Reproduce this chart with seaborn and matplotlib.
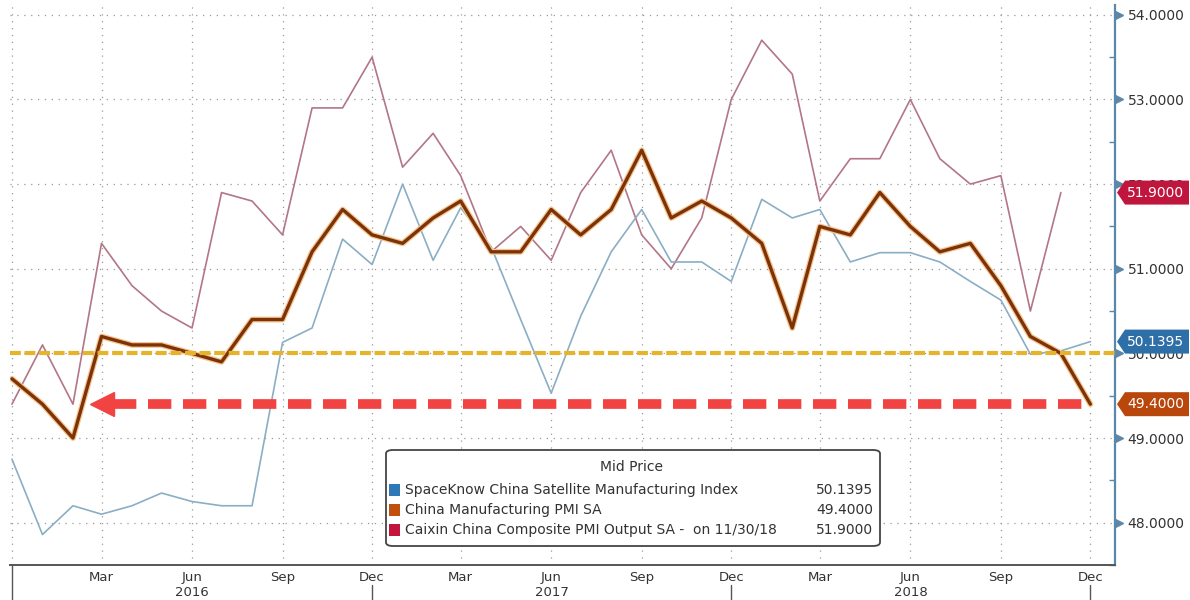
import numpy as np
import pandas as pd
import matplotlib
matplotlib.use("Agg")
import matplotlib.pyplot as plt
import matplotlib.dates as mdates
import matplotlib.patheffects as pe
from matplotlib.patches import Polygon, FancyBboxPatch, Rectangle
from matplotlib.transforms import blended_transform_factory
import seaborn as sns

# -----------------------------
# data (monthly, Dec 2015 - Dec 2018)
# -----------------------------
months = pd.date_range("2015-12-01", "2018-12-01", freq="MS")

spaceknow = [48.75, 47.86, 48.2, 48.1, 48.2, 48.35, 48.25, 48.2, 48.2, 50.13, 50.3, 51.35, 51.05,
             52.0, 51.1, 51.72, 51.26, 50.4, 49.53, 50.44, 51.2, 51.7, 51.08, 51.08, 50.85,
             51.82, 51.6, 51.7, 51.08, 51.19, 51.19, 51.08, 50.85, 50.63, 49.99, 50.03, 50.1395]

pmi = [49.7, 49.4, 49.0, 50.2, 50.1, 50.1, 50.0, 49.9, 50.4, 50.4, 51.2, 51.7, 51.4,
       51.3, 51.6, 51.8, 51.2, 51.2, 51.7, 51.4, 51.7, 52.4, 51.6, 51.8, 51.6,
       51.3, 50.3, 51.5, 51.4, 51.9, 51.5, 51.2, 51.3, 50.8, 50.2, 50.0, 49.4]

caixin = [49.4, 50.1, 49.4, 51.3, 50.8, 50.5, 50.3, 51.9, 51.8, 51.4, 52.9, 52.9, 53.5,
          52.2, 52.6, 52.1, 51.2, 51.5, 51.1, 51.9, 52.4, 51.4, 51.0, 51.6, 53.0,
          53.7, 53.3, 51.8, 52.3, 52.3, 53.0, 52.3, 52.0, 52.1, 50.5, 51.9]

series_names = ["SpaceKnow China Satellite Manufacturing Index",
                "China Manufacturing PMI SA",
                "Caixin China Composite PMI Output SA -  on 11/30/18"]
last_values = [spaceknow[-1], pmi[-1], caixin[-1]]
year_labels = ["2016", "2017", "2018"]
yticks = [48, 49, 50, 51, 52, 53, 54]
expansion_level = 50.0

# -----------------------------
# figure
# -----------------------------
sns.set_style("white")
plt.rcParams["font.family"] = ["DejaVu Sans"]

W, H = 1190, 600
fig = plt.figure(figsize=(W / 100, H / 100), dpi=100)
ax = fig.add_axes([10 / W, 35 / H, 1105 / W, 560 / H])

sns.lineplot(x=months[:len(caixin)], y=caixin, ax=ax, color="#b27686", linewidth=1.2)
sns.lineplot(x=months, y=spaceknow, ax=ax, color="#8aaec4", linewidth=1.2)
sns.lineplot(x=months, y=pmi, ax=ax, color="#7c3309", linewidth=2.4,
             path_effects=[pe.withStroke(linewidth=4.2, foreground="#f6c48c")])
ax.set_xlabel("")
ax.set_ylabel("")

x0 = months[0] - pd.Timedelta(days=2)
x1 = months[-1] + pd.Timedelta(days=25)
ax.set_xlim(x0, x1)
ax.set_ylim(47.605, 54.116)

# annotation lines
ax.hlines(expansion_level, x0, x1, colors="#e6b42a", linewidth=3.0,
          linestyles=(0, (2.6, 0.9)), zorder=4)
arrow_tip = pd.Timestamp("2016-02-20")
ax.hlines(pmi[-1], arrow_tip + pd.Timedelta(days=22), months[-1] - pd.Timedelta(days=5),
          colors="#f24343", linewidth=7, linestyles=(0, (2.4, 1.2)), zorder=5)
ax.plot([arrow_tip + pd.Timedelta(days=10)], [pmi[-1]], marker="<", markersize=17,
        color="#f24343", zorder=5)

# grid
ax.xaxis.set_major_locator(mdates.MonthLocator(bymonth=[3, 6, 9, 12]))
ax.xaxis.set_minor_locator(mdates.MonthLocator())


def month_fmt(x, pos):
    d = mdates.num2date(x)
    return "" if d.year < 2016 else d.strftime("%b")


ax.xaxis.set_major_formatter(plt.FuncFormatter(month_fmt))
ax.set_yticks(yticks)
ax.set_yticks(np.arange(47.5, 54.1, 0.5), minor=True)
ax.yaxis.set_major_formatter(plt.FuncFormatter(lambda v, p: f"{v:.4f}"))
ax.grid(True, which="major", color="#999999", linewidth=0.9, linestyle=(0, (1, 4.5)))

# spines / ticks
for s in ["left", "top"]:
    ax.spines[s].set_visible(False)
ax.spines["right"].set_color("#5b88aa")
ax.spines["right"].set_linewidth(1.6)
ax.spines["bottom"].set_color("#555555")
ax.spines["bottom"].set_linewidth(1.4)

ax.yaxis.tick_right()
ax.tick_params(axis="y", which="major", length=0, pad=9, labelsize=10, labelcolor="#333333")
ax.tick_params(axis="y", which="minor", length=4, direction="in", color="#5b88aa", width=1)
ax.tick_params(axis="x", which="both", direction="inout", color="#555555", width=1)
ax.tick_params(axis="x", which="major", length=6, pad=1, labelsize=9.5, labelcolor="#333333")
ax.tick_params(axis="x", which="minor", length=5)

yblend = blended_transform_factory(ax.transAxes, ax.transData)
ax.plot([1.004] * len(yticks), yticks, transform=yblend, marker=">", markersize=6,
        color="#5b88aa", linestyle="none", clip_on=False)

# year labels and separators
xblend = blended_transform_factory(ax.transData, ax.transAxes)
for i, yl in enumerate(year_labels):
    start = pd.Timestamp(f"{int(yl) - 1}-12-01")
    end = pd.Timestamp(f"{yl}-12-01")
    ax.text(start + (end - start) / 2, -0.05, yl, transform=xblend, ha="center",
            va="center", fontsize=9.5, color="#333333")
    ax.plot([end, end], [-0.035, -0.07], transform=xblend, color="#555555",
            linewidth=1, clip_on=False)
ax.plot([months[0], months[0]], [0, -0.07], transform=xblend, color="#555555",
        linewidth=1, clip_on=False)

# -----------------------------
# legend box
# -----------------------------
fig.patches.append(FancyBboxPatch((386 / W, 1 - 546 / H), 494 / W, 96 / H,
                                  boxstyle="round,pad=0,rounding_size=0.006",
                                  transform=fig.transFigure, facecolor="white",
                                  edgecolor="#444444", linewidth=1.3, zorder=6))
fig.text(632 / W, 1 - 467 / H, "Mid Price", ha="center", va="center",
         fontsize=10, color="#333333", zorder=7)
legend_colors = ["#2e78b8", "#c0500c", "#c2143c"]
for i, (name, val, c) in enumerate(zip(series_names, last_values, legend_colors)):
    yc = 490 + 20 * i
    fig.patches.append(Rectangle((389 / W, 1 - (yc + 6) / H), 11 / W, 12 / H,
                                 transform=fig.transFigure, facecolor=c,
                                 edgecolor="none", zorder=7))
    fig.text(405 / W, 1 - yc / H, name, ha="left", va="center", fontsize=10,
             color="#333333", zorder=7)
    fig.text(873 / W, 1 - yc / H, f"{val:.4f}", ha="right", va="center",
             fontsize=10, color="#333333", zorder=7)

# -----------------------------
# right side value tags
# -----------------------------
tag_colors = ["#2f6fa8", "#b9470c", "#c0163e"]
fig.canvas.draw()
for val, c in zip(last_values, tag_colors):
    yc = ax.transData.transform((0, val))[1]
    xs = [1117, 1125, 1189, 1189, 1125]
    ys = [yc, yc + 12, yc + 12, yc - 12, yc - 12]
    fig.patches.append(Polygon(np.column_stack([np.array(xs) / W, np.array(ys) / H]),
                               closed=True, transform=fig.transFigure, facecolor=c,
                               edgecolor="none", zorder=8))
    fig.text(1156 / W, yc / H, f"{val:.4f}", ha="center", va="center", fontsize=10,
             color="white", zorder=9)

fig.savefig("out.png", dpi=100)
